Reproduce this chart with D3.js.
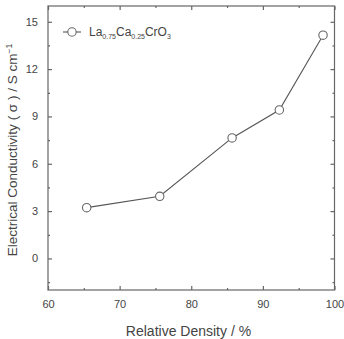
<!DOCTYPE html>
<html><head><meta charset="utf-8">
<script src="https://cdn.jsdelivr.net/npm/d3@7/dist/d3.min.js"></script>
<style>body{margin:0;background:#fff}svg{display:block}text{font-family:Arial,"Liberation Sans",sans-serif;fill:#444}</style>
</head><body>
<script>
const density = [65.4, 75.6, 85.7, 92.3, 98.4];
const conductivity = [3.22, 3.94, 7.64, 9.41, 14.15];
const xTicks = [60, 70, 80, 90, 100];
const yTicks = [0, 3, 6, 9, 12, 15];
const xMinor = [65, 75, 85, 95];
const yMinor = [-1.5, 1.5, 4.5, 7.5, 10.5, 13.5];

const W = 344, H = 339;
const mg = {l: 48, t: 6, r: 334.5, b: 290};
const svg = d3.select("body").append("svg").attr("width", W).attr("height", H);
const x = d3.scaleLinear().domain([60, 100]).range([mg.l, mg.r]);
const y = d3.scaleLinear().domain([-2, 16]).range([mg.b, mg.t]);
const axCol = "#666";

svg.append("rect").attr("x", mg.l).attr("y", mg.t).attr("width", mg.r - mg.l).attr("height", mg.b - mg.t)
  .attr("fill", "none").attr("stroke", axCol).attr("stroke-width", 1.2);

svg.append("g").attr("transform", `translate(0,${mg.b})`)
  .call(d3.axisBottom(x).tickValues(xTicks).tickSize(-4).tickPadding(10).tickFormat(d3.format("d")));
svg.append("g").attr("transform", `translate(0,${mg.b})`)
  .call(d3.axisBottom(x).tickValues(xMinor).tickSize(-2).tickFormat(""));
svg.append("g").attr("transform", `translate(0,${mg.t})`)
  .call(d3.axisTop(x).tickValues(xTicks).tickSize(-4).tickFormat(""));
svg.append("g").attr("transform", `translate(0,${mg.t})`)
  .call(d3.axisTop(x).tickValues(xMinor).tickSize(-2).tickFormat(""));
svg.append("g").attr("transform", `translate(${mg.l},0)`)
  .call(d3.axisLeft(y).tickValues(yTicks).tickSize(-4).tickPadding(10).tickFormat(d3.format("d")));
svg.append("g").attr("transform", `translate(${mg.l},0)`)
  .call(d3.axisLeft(y).tickValues(yMinor).tickSize(-2).tickFormat(""));
svg.append("g").attr("transform", `translate(${mg.r},0)`)
  .call(d3.axisRight(y).tickValues(yTicks).tickSize(-4).tickFormat(""));
svg.append("g").attr("transform", `translate(${mg.r},0)`)
  .call(d3.axisRight(y).tickValues(yMinor).tickSize(-2).tickFormat(""));

svg.selectAll(".domain").remove();
svg.selectAll(".tick line").attr("stroke", axCol).attr("stroke-width", 1.2);
svg.selectAll(".tick text").style("font-size", "11px").attr("fill", "#444");

const line = d3.line().x((d, i) => x(density[i])).y(d => y(d));
svg.append("path").datum(conductivity).attr("d", line).attr("fill", "none").attr("stroke", "#555").attr("stroke-width", 1.1);
svg.selectAll(".pt").data(conductivity).enter().append("circle")
  .attr("cx", (d, i) => x(density[i])).attr("cy", d => y(d)).attr("r", 4.2)
  .attr("fill", "#fff").attr("stroke", "#666").attr("stroke-width", 1.1);

// legend
svg.append("line").attr("x1", 63).attr("x2", 81).attr("y1", 32).attr("y2", 32).attr("stroke", "#555").attr("stroke-width", 1.1);
svg.append("circle").attr("cx", 72).attr("cy", 32).attr("r", 4.2).attr("fill", "#fff").attr("stroke", "#666").attr("stroke-width", 1.1);
const lt = svg.append("text").attr("x", 89).attr("y", 36).style("font-size", "12px");
lt.append("tspan").text("La");
lt.append("tspan").text("0.75").style("font-size", "7px").attr("dy", 3);
lt.append("tspan").text("Ca").attr("dy", -3);
lt.append("tspan").text("0.25").style("font-size", "7px").attr("dy", 3);
lt.append("tspan").text("CrO").attr("dy", -3);
lt.append("tspan").text("3").style("font-size", "7px").attr("dy", 3);

svg.append("text").attr("x", 188.5).attr("y", 336).attr("text-anchor", "middle")
  .style("font-size", "14px").text("Relative Density  /  %");
const yt = svg.append("text").attr("transform", `translate(17,150) rotate(-90)`)
  .attr("text-anchor", "middle").style("font-size", "13.5px");
yt.append("tspan").text("Electrical Conductivity ( σ  )  /  S cm");
yt.append("tspan").text("−1").style("font-size", "8.5px").attr("dy", -5);
</script>
</body></html>
